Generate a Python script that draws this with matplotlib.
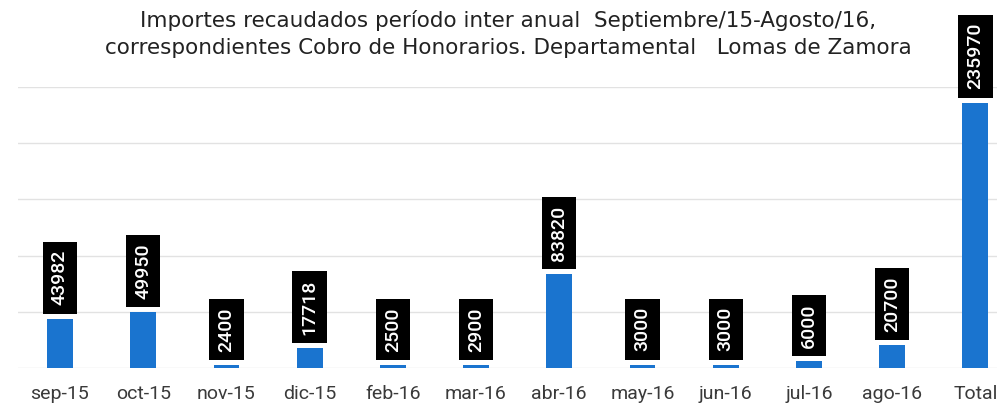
import matplotlib
matplotlib.use("Agg")
import matplotlib.pyplot as plt
import numpy as np

meses = ['sep-15', 'oct-15', 'nov-15', 'dic-15', 'feb-16', 'mar-16',
         'abr-16', 'may-16', 'jun-16', 'jul-16', 'ago-16', 'Total']
importes = [43982, 49950, 2400, 17718, 2500, 2900, 83820, 3000, 3000, 6000, 20700, 235970]

titulo = ("Importes recaudados período inter anual  Septiembre/15-Agosto/16,\n"
          "correspondientes Cobro de Honorarios. Departamental   Lomas de Zamora")

fig = plt.figure(figsize=(9.97, 4.05), dpi=100)
ax = fig.add_axes([0.018, 0.0914, 0.982, 0.694])

index = np.arange(len(meses))
ax.bar(index, importes, 0.31, color='#1a74cf', zorder=2)

for i, v in zip(index, importes):
    ax.annotate(str(v), (i, v), xytext=(0, 9.5), textcoords='offset points',
                rotation=90, ha='center', va='bottom', color='white',
                fontsize=14, family='Roboto', fontweight='medium',
                annotation_clip=False,
                bbox=dict(boxstyle='square,pad=0.42', fc='black', ec='none'),
                zorder=3)

ax.set_xlim(-0.505, 11.26)
ax.set_ylim(0, 250000)
ax.set_yticks([0, 50000, 100000, 150000, 200000, 250000])
ax.yaxis.grid(True, color='#e2e2e2', linewidth=1)
ax.set_axisbelow(True)
ax.tick_params(axis='y', left=False, labelleft=False)
ax.tick_params(axis='x', length=0, pad=12, labelcolor='#3a3a3a')
ax.set_xticks(index)
ax.set_xticklabels(meses, family='Roboto', fontsize=14)
for s in ax.spines.values():
    s.set_visible(False)

fig.text(0.51, 0.975, titulo, ha='center', va='top', fontsize=15.5,
         family='DejaVu Sans', color='#222222', linespacing=1.45)

fig.savefig("out.png", dpi=100)
